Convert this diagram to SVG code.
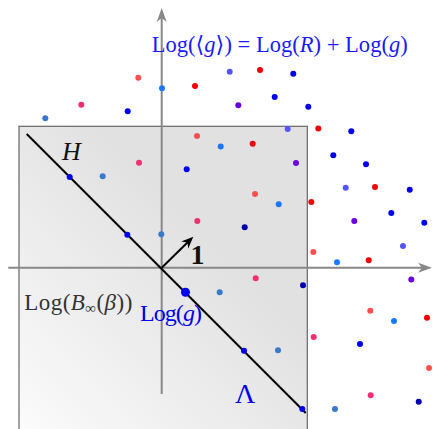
<svg xmlns="http://www.w3.org/2000/svg" width="433" height="429" viewBox="0 0 433 429">
<style>
.t{font-family:"Liberation Serif","DejaVu Serif",serif;}
.i{font-style:italic;}
.ax{stroke:#888;stroke-width:2;fill:none;}
.b{fill:#0000ee}.r{fill:#f00000}.lr{fill:#ff5050}.pk{fill:#f03070}.sb{fill:#3a78cc}.az{fill:#1a78ff}.sl{fill:#5555ff}.pu{fill:#6a00dc}.db{fill:#0000b0}
</style>
<defs>
<linearGradient id="g" gradientUnits="userSpaceOnUse" x1="19" y1="429" x2="210" y2="240">
<stop offset="0" stop-color="#fbfbfb"/><stop offset="1" stop-color="#e1e1e1"/>
</linearGradient>
<marker id="ah" markerUnits="userSpaceOnUse" markerWidth="18" markerHeight="14" viewBox="-15 -7 18 14" refX="-10" refY="0" orient="auto">
<path d="M0,0 L-14,-5 L-10,0 L-14,5 Z" fill="#888"/>
</marker>
<marker id="bh" markerUnits="userSpaceOnUse" markerWidth="16" markerHeight="12" viewBox="-13 -6 16 12" refX="-6" refY="0" orient="auto">
<path d="M0,0 L-12,-5 L-8,0 L-12,5 Z" fill="#000"/>
</marker>
</defs>
<g id="region">
<rect x="19" y="126.3" width="288.3" height="320" fill="url(#g)" stroke="#666" stroke-width="1.2"/>
</g>
<g id="connectors">
<line class="ax" x1="161.7" y1="394" x2="161.7" y2="18" marker-end="url(#ah)"/>
<line class="ax" x1="8.3" y1="267.7" x2="422" y2="267.7" marker-end="url(#ah)"/>
<line x1="26.7" y1="134" x2="305.7" y2="413" stroke="#000" stroke-width="2"/>
<line x1="161.7" y1="267.7" x2="189" y2="241" stroke="#000" stroke-width="2" marker-end="url(#bh)"/>
</g>
<g id="points">
<circle class="sb" cx="45.3" cy="118.3" r="3"/>
<circle class="pk" cx="81.3" cy="104.7" r="3"/>
<circle class="b" cx="127.7" cy="111.2" r="3"/>
<circle class="lr" cx="138.3" cy="77.7" r="3"/>
<circle class="az" cx="162" cy="88.3" r="3"/>
<circle class="r" cx="195" cy="86" r="3"/>
<circle class="sl" cx="229.7" cy="71.7" r="3"/>
<circle class="r" cx="260" cy="70" r="3"/>
<circle class="b" cx="293.3" cy="73.7" r="3"/>
<circle class="pu" cx="238.3" cy="105.2" r="3"/>
<circle class="b" cx="274.7" cy="97" r="3"/>
<circle class="b" cx="308.3" cy="106.7" r="3"/>
<circle class="sl" cx="287.7" cy="129" r="3"/>
<circle class="r" cx="318.3" cy="128.5" r="3"/>
<circle class="b" cx="351.3" cy="131.3" r="3"/>
<circle class="lr" cx="197" cy="136" r="3"/>
<circle class="az" cx="220.7" cy="146.5" r="3"/>
<circle class="r" cx="252.7" cy="143.7" r="3"/>
<circle class="pu" cx="296" cy="163" r="3"/>
<circle class="b" cx="333.3" cy="155.3" r="3"/>
<circle class="b" cx="366" cy="164.3" r="3"/>
<circle class="pk" cx="139" cy="162.7" r="3"/>
<circle class="b" cx="69.7" cy="177" r="3"/>
<circle class="sb" cx="102.7" cy="176.3" r="3"/>
<circle class="b" cx="186.7" cy="169.3" r="3"/>
<circle class="sl" cx="345.7" cy="187.7" r="3"/>
<circle class="r" cx="375" cy="187" r="3"/>
<circle class="b" cx="409.7" cy="189.7" r="3"/>
<circle class="lr" cx="255" cy="194" r="3"/>
<circle class="az" cx="278.7" cy="204.3" r="3"/>
<circle class="r" cx="311.3" cy="202" r="3"/>
<circle class="b" cx="391.3" cy="213" r="3"/>
<circle class="pu" cx="354.3" cy="221" r="3"/>
<circle class="b" cx="424.3" cy="222.7" r="3"/>
<circle class="pk" cx="197.3" cy="221" r="3"/>
<circle class="db" cx="244.7" cy="227.3" r="3"/>
<circle class="b" cx="127.3" cy="234.7" r="3"/>
<circle class="sb" cx="161.3" cy="234.3" r="3"/>
<circle class="sl" cx="403" cy="246" r="3"/>
<circle class="lr" cx="313.3" cy="252" r="3"/>
<circle class="az" cx="337" cy="262.3" r="3"/>
<circle class="r" cx="368.7" cy="260.3" r="3"/>
<circle class="pk" cx="255.7" cy="278.3" r="3"/>
<circle class="pu" cx="411.3" cy="279.5" r="3"/>
<circle class="sb" cx="219.7" cy="292.3" r="3"/>
<circle class="db" cx="303" cy="285.3" r="3"/>
<circle class="lr" cx="370.3" cy="310.7" r="3"/>
<circle class="az" cx="394" cy="321" r="3"/>
<circle class="r" cx="427" cy="317.7" r="3"/>
<circle class="pk" cx="313.7" cy="337" r="3"/>
<circle class="b" cx="360" cy="344" r="3"/>
<circle class="b" cx="244" cy="350.7" r="3"/>
<circle class="sb" cx="278" cy="350.3" r="3"/>
<circle class="lr" cx="429" cy="368" r="3"/>
<circle class="pk" cx="370.7" cy="395.3" r="3"/>
<circle class="db" cx="418.7" cy="401.7" r="3"/>
<circle class="b" cx="302.3" cy="409" r="3"/>
<circle class="sb" cx="335" cy="409" r="3"/>
</g>
<g id="g-point">
<circle class="b" cx="185.5" cy="292.3" r="4.5"/>
</g>
<g id="labels">
<text class="t" x="151.7" y="52" font-size="22.5" fill="#1a1aff" textLength="256" lengthAdjust="spacing">Log(⟨<tspan class="i">g</tspan>⟩) = Log(<tspan class="i">R</tspan>) + Log(<tspan class="i">g</tspan>)</text>
<text class="t i" x="62" y="159.5" font-size="26" fill="#111">H</text>
<text class="t" x="190.5" y="263.7" font-size="28" font-weight="bold" fill="#111">1</text>
<text class="t" x="24.3" y="309.5" font-size="23" fill="#333" textLength="108" lengthAdjust="spacing">Log(<tspan class="i">B</tspan><tspan font-size="15" dy="3">∞</tspan><tspan dy="-3">(</tspan><tspan class="i">β</tspan>))</text>
<text class="t" x="140" y="321" font-size="24" fill="#0000ee" textLength="62" lengthAdjust="spacing">Log(<tspan class="i">g</tspan>)</text>
<text class="t" x="235" y="402.7" font-size="28" fill="#0000ee">Λ</text>
</g>
</svg>
